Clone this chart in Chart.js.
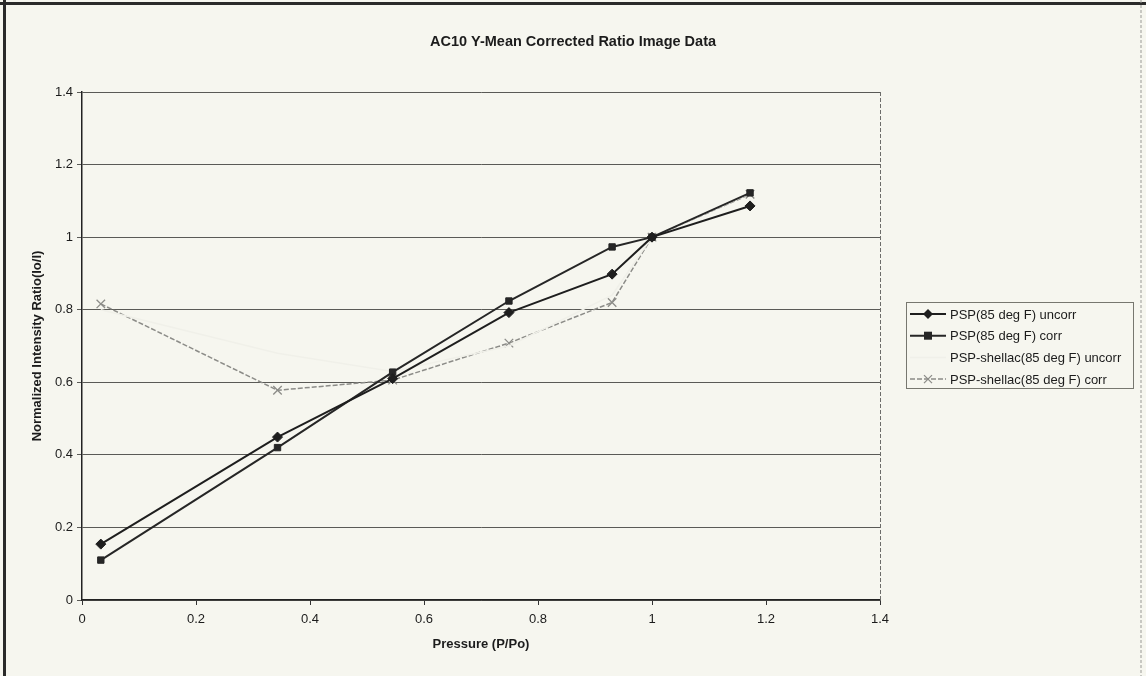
<!DOCTYPE html>
<html>
<head>
<meta charset="utf-8">
<script src="https://cdn.jsdelivr.net/npm/chart.js@4/dist/chart.umd.min.js"></script>
<style>
html,body{margin:0;padding:0;background:#f6f6ef}
canvas{display:block}
</style>
</head>
<body>
<canvas id="chart" width="1146" height="676"></canvas>
<script>
// values
const pressure=[0.033,0.343,0.545,0.749,0.930,1.0,1.172]
const pspUncorr=[0.154,0.449,0.610,0.792,0.898,1.0,1.086]
const pspCorr=[0.110,0.420,0.628,0.824,0.973,1.0,1.122]
const shellacUncorr=[0.80,0.68,0.63,0.70,0.84,1.0,1.12]   // almost invisible in the scan
const shellacCorr=[0.816,0.578,0.606,0.708,0.820,1.0,1.118]
const xTicks=[0,0.2,0.4,0.6,0.8,1,1.2,1.4]
const yTicks=[0,0.2,0.4,0.6,0.8,1,1.2,1.4]

const seriesNames=["PSP(85 deg F) uncorr","PSP(85 deg F) corr","PSP-shellac(85 deg F) uncorr","PSP-shellac(85 deg F) corr"]
const chartTitle="AC10 Y-Mean Corrected Ratio Image Data"

const font="'Liberation Sans', Arial, sans-serif"
const toPoints=(ys)=>pressure.map((x,i)=>({x:x,y:ys[i]}))

const datasets=[
    {label:seriesNames[0],data:toPoints(pspUncorr),borderColor:"#1e1e1e",backgroundColor:"#1e1e1e",
     borderWidth:2,pointStyle:"rectRot",pointRadius:5,pointBorderWidth:1},
    {label:seriesNames[1],data:toPoints(pspCorr),borderColor:"#262626",backgroundColor:"#262626",
     borderWidth:2,pointStyle:"rect",pointRadius:4.5,pointBorderWidth:1},
    {label:seriesNames[2],data:toPoints(shellacUncorr),borderColor:"#f0f0e9",backgroundColor:"#f0f0e9",
     borderWidth:1.5,pointRadius:0},
    {label:seriesNames[3],data:toPoints(shellacCorr),borderColor:"#8c8c88",backgroundColor:"#8c8c88",
     borderWidth:1.5,borderDash:[5,2],pointStyle:"crossRot",pointRadius:6,pointBorderWidth:1.3}
]

// markers for the hand drawn legend
const drawMarker=(ctx,style,x,y,color)=>{
    ctx.save()
    ctx.fillStyle=color
    ctx.strokeStyle=color
    ctx.setLineDash([])
    ctx.beginPath()
    if(style==="rectRot"){
        ctx.moveTo(x,y-5);ctx.lineTo(x+5,y);ctx.lineTo(x,y+5);ctx.lineTo(x-5,y);ctx.closePath();ctx.fill()
    }else if(style==="rect"){
        ctx.rect(x-4,y-4,8,8);ctx.fill()
    }else if(style==="crossRot"){
        ctx.lineWidth=1.3
        ctx.moveTo(x-4,y-4);ctx.lineTo(x+4,y+4);ctx.moveTo(x+4,y-4);ctx.lineTo(x-4,y+4);ctx.stroke()
    }
    ctx.restore()
}

const framePlugin={
    id:"frame",
    beforeDraw(chart){
        const ctx=chart.ctx
        ctx.save()
        ctx.fillStyle="#f6f6ef"
        ctx.fillRect(0,0,chart.width,chart.height)
        ctx.fillStyle="#2a2a2a"
        ctx.fillRect(3,0,3,chart.height)
        ctx.fillRect(0,2,chart.width,3)
        ctx.strokeStyle="#9a9a96"
        ctx.setLineDash([3,2])
        ctx.beginPath()
        ctx.moveTo(chart.width-5,0);ctx.lineTo(chart.width-5,chart.height)
        ctx.stroke()
        ctx.restore()
    },
    afterDraw(chart){
        const ctx=chart.ctx
        const a=chart.chartArea
        ctx.save()
        // title, centred on the whole picture
        ctx.font="bold 14.5px "+font
        ctx.fillStyle="#1c1c1c"
        ctx.textAlign="center"
        ctx.textBaseline="middle"
        ctx.fillText(chartTitle,chart.width/2,42)

        // right edge of plot area
        ctx.strokeStyle="#6d6d6a"
        ctx.lineWidth=1
        ctx.setLineDash([4,2])
        ctx.beginPath()
        ctx.moveTo(a.right+0.5,a.top);ctx.lineTo(a.right+0.5,a.bottom)
        ctx.stroke()

        // legend box
        const lx=906,ly=302,lw=227,lh=86
        ctx.setLineDash([])
        ctx.strokeStyle="#77776f"
        ctx.strokeRect(lx+0.5,ly+0.5,lw,lh)
        ctx.font="13px "+font
        ctx.textAlign="left"
        ctx.fillStyle="#1c1c1c"
        datasets.forEach((ds,i)=>{
            const y=ly+12+i*21.7
            ctx.save()
            ctx.strokeStyle=ds.borderColor
            ctx.lineWidth=ds.borderWidth
            if(ds.borderDash) ctx.setLineDash(ds.borderDash)
            ctx.beginPath()
            ctx.moveTo(lx+4,y);ctx.lineTo(lx+40,y)
            ctx.stroke()
            ctx.restore()
            if(ds.pointRadius>0) drawMarker(ctx,ds.pointStyle,lx+22,y,ds.borderColor)
            ctx.fillText(ds.label,lx+44,y+1)
        })
        ctx.restore()
    }
}

new Chart(document.getElementById("chart"),{
    type:"line",
    data:{datasets:datasets},
    options:{
        responsive:false,
        animation:false,
        layout:{padding:{left:0,top:92,right:266,bottom:0}},
        plugins:{
            legend:{display:false},
            tooltip:{enabled:false},
            title:{display:false}
        },
        scales:{
            x:{
                type:"linear",
                min:0,max:1.4,
                afterBuildTicks:(scale)=>{scale.ticks=xTicks.map(v=>({value:v}))},
                afterFit:(scale)=>{scale.height=76},
                grid:{display:true,drawOnChartArea:false,drawTicks:true,tickLength:5,color:"#333"},
                border:{display:true,color:"#222",width:1.5},
                ticks:{color:"#1c1c1c",padding:7,font:{family:font,size:13},
                    callback:(v)=>String(+v.toFixed(2))},
                title:{display:true,text:"Pressure (P/Po)",color:"#1c1c1c",
                    font:{family:font,size:13,weight:"bold"},padding:{top:0,bottom:24}}
            },
            y:{
                min:0,max:1.4,
                afterBuildTicks:(scale)=>{scale.ticks=yTicks.map(v=>({value:v}))},
                afterFit:(scale)=>{scale.width=82},
                grid:{color:"#5a5a56",lineWidth:1,drawTicks:true,tickLength:5},
                border:{display:true,color:"#222",width:1.5},
                ticks:{color:"#1c1c1c",padding:4,font:{family:font,size:13},
                    callback:(v)=>String(+v.toFixed(2))},
                title:{display:true,text:"Normalized Intensity Ratio(Io/I)",color:"#1c1c1c",
                    font:{family:font,size:13,weight:"bold"},padding:{top:30,bottom:0}}
            }
        }
    },
    plugins:[framePlugin]
})
</script>
</body>
</html>
